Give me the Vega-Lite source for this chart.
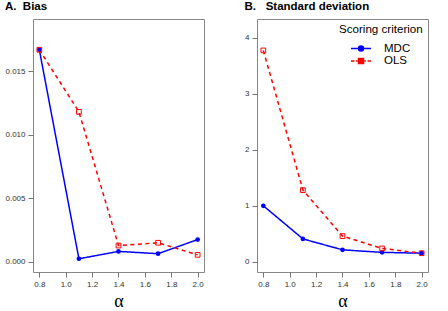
{
  "$schema": "https://vega.github.io/schema/vega-lite/v6.json",
  "padding": {"left": 4, "top": 0, "right": 0, "bottom": 0},
  "bounds": "flush",
  "spacing": 53,
  "datasets": {
    "bias": [
      {"alpha": 0.8, "series": "MDC", "value": 0.01668},
      {"alpha": 1.1, "series": "MDC", "value": 0.00024},
      {"alpha": 1.4, "series": "MDC", "value": 0.00082},
      {"alpha": 1.7, "series": "MDC", "value": 0.00064},
      {"alpha": 2.0, "series": "MDC", "value": 0.00175},
      {"alpha": 0.8, "series": "OLS", "value": 0.01668},
      {"alpha": 1.1, "series": "OLS", "value": 0.0118},
      {"alpha": 1.4, "series": "OLS", "value": 0.00128},
      {"alpha": 1.7, "series": "OLS", "value": 0.0015},
      {"alpha": 2.0, "series": "OLS", "value": 0.00055}
    ],
    "sd": [
      {"alpha": 0.8, "series": "MDC", "value": 1.0},
      {"alpha": 1.1, "series": "MDC", "value": 0.41},
      {"alpha": 1.4, "series": "MDC", "value": 0.215},
      {"alpha": 1.7, "series": "MDC", "value": 0.17},
      {"alpha": 2.0, "series": "MDC", "value": 0.155},
      {"alpha": 0.8, "series": "OLS", "value": 3.77},
      {"alpha": 1.1, "series": "OLS", "value": 1.28},
      {"alpha": 1.4, "series": "OLS", "value": 0.46},
      {"alpha": 1.7, "series": "OLS", "value": 0.24},
      {"alpha": 2.0, "series": "OLS", "value": 0.155}
    ]
  },
  "config": {
    "view": {"stroke": "#888888", "strokeWidth": 1},
    "axis": {
      "domain": false,
      "grid": false,
      "tickColor": "#777777",
      "tickSize": 5,
      "labelFont": "Liberation Sans",
      "labelFontSize": 8,
      "labelColor": "#333333",
      "labelPadding": 3
    },
    "title": {
      "font": "Liberation Sans",
      "fontSize": 11.5,
      "fontWeight": "bold",
      "anchor": "start",
      "color": "#000000",
      "offset": 7
    }
  },
  "resolve": {
    "scale": {"x": "independent", "y": "independent", "fill": "independent", "stroke": "independent", "shape": "independent"},
    "legend": {"fill": "independent", "stroke": "independent", "shape": "independent"}
  },
  "hconcat": [
    {
      "width": 171,
      "height": 253,
      "title": "A.\u00a0\u00a0Bias",
      "data": {"name": "bias"},
      "encoding": {
        "x": {
          "field": "alpha", "type": "quantitative",
          "scale": {"domain": [0.752, 2.048], "nice": false, "zero": false},
          "axis": {"values": [0.8, 1.0, 1.2, 1.4, 1.6, 1.8, 2.0], "format": ".1f", "title": "α", "titleFont": "Liberation Serif", "titleFontSize": 18, "titleFontWeight": "normal", "titlePadding": 4, "titleColor": "#000000"}
        },
        "y": {
          "field": "value", "type": "quantitative",
          "scale": {"domain": [-0.0008, 0.0191], "nice": false, "zero": false},
          "axis": {"values": [0, 0.005, 0.01, 0.015], "format": ".3f", "title": null}
        }
      },
      "layer": [
        {
          "mark": {"type": "line", "strokeWidth": 1.5},
          "encoding": {
            "color": {"field": "series", "type": "nominal", "scale": {"domain": ["MDC", "OLS"], "range": ["#0000ff", "#ff0000"]}, "legend": null},
            "strokeDash": {"field": "series", "type": "nominal", "scale": {"domain": ["MDC", "OLS"], "range": [[1, 0], [4, 3.5]]}, "legend": null}
          }
        },
        {
          "transform": [{"filter": "datum.series === 'MDC'"}],
          "mark": {"type": "point", "shape": "circle", "filled": true, "color": "#0000ff", "size": 22, "opacity": 1}
        },
        {
          "transform": [{"filter": "datum.series === 'OLS'"}],
          "mark": {"type": "point", "shape": "square", "filled": false, "color": "#ff0000", "size": 22, "strokeWidth": 1, "opacity": 1}
        }
      ]
    },
    {
      "width": 171,
      "height": 253,
      "title": "B.\u00a0\u00a0\u00a0Standard deviation",
      "data": {"name": "sd"},
      "encoding": {
        "x": {
          "field": "alpha", "type": "quantitative",
          "scale": {"domain": [0.752, 2.048], "nice": false, "zero": false},
          "axis": {"values": [0.8, 1.0, 1.2, 1.4, 1.6, 1.8, 2.0], "format": ".1f", "title": "α", "titleFont": "Liberation Serif", "titleFontSize": 18, "titleFontWeight": "normal", "titlePadding": 4, "titleColor": "#000000"}
        },
        "y": {
          "field": "value", "type": "quantitative",
          "scale": {"domain": [-0.18, 4.33], "nice": false, "zero": false},
          "axis": {"values": [0, 1, 2, 3, 4], "format": "d", "title": null}
        }
      },
      "layer": [
        {
          "mark": {"type": "line", "strokeWidth": 1.5},
          "encoding": {
            "color": {"field": "series", "type": "nominal", "scale": {"domain": ["MDC", "OLS"], "range": ["#0000ff", "#ff0000"]}, "legend": null},
            "strokeDash": {"field": "series", "type": "nominal", "scale": {"domain": ["MDC", "OLS"], "range": [[1, 0], [4, 3.5]]}, "legend": null}
          }
        },
        {
          "transform": [{"filter": "datum.series === 'MDC'"}],
          "mark": {"type": "point", "shape": "circle", "filled": true, "color": "#0000ff", "size": 22, "opacity": 1}
        },
        {
          "transform": [{"filter": "datum.series === 'OLS'"}],
          "mark": {"type": "point", "shape": "square", "filled": false, "color": "#ff0000", "size": 22, "strokeWidth": 1, "opacity": 1}
        },
        {
          "mark": {"type": "point", "opacity": 0, "strokeWidth": 1.5},
          "encoding": {
            "shape": {
              "field": "series", "type": "nominal",
              "scale": {"domain": ["MDC", "OLS"], "range": [
                "M-2,0H2M0.5,0A0.5,0.5,0,1,1,-0.5,0A0.5,0.5,0,1,1,0.5,0Z",
                "M-2,0H-1.3M-1,0H-0.7M0.7,0H1M1.3,0H2M-0.5,-0.5H0.5V0.5H-0.5Z"
              ]},
              "legend": {
                "title": "Scoring criterion",
                "orient": "top-right",
                "offset": 2,
                "padding": 3,
                "titleFont": "Liberation Sans",
                "titleFontSize": 11.6,
                "titleFontWeight": "normal",
                "titleColor": "#000000",
                "titlePadding": 7,
                "labelFont": "Liberation Sans",
                "labelFontSize": 11.5,
                "labelColor": "#000000",
                "symbolSize": 100,
                "symbolOpacity": 1,
                "symbolStrokeWidth": 1.5,
                "symbolOffset": 16,
                "labelOffset": 17,
                "rowPadding": 0.5
              }
            },
            "fill": {"field": "series", "type": "nominal", "scale": {"domain": ["MDC", "OLS"], "range": ["#0000ff", "#ff0000"]}},
            "stroke": {"field": "series", "type": "nominal", "scale": {"domain": ["MDC", "OLS"], "range": ["#0000ff", "#ff0000"]}}
          }
        }
      ]
    }
  ]
}
